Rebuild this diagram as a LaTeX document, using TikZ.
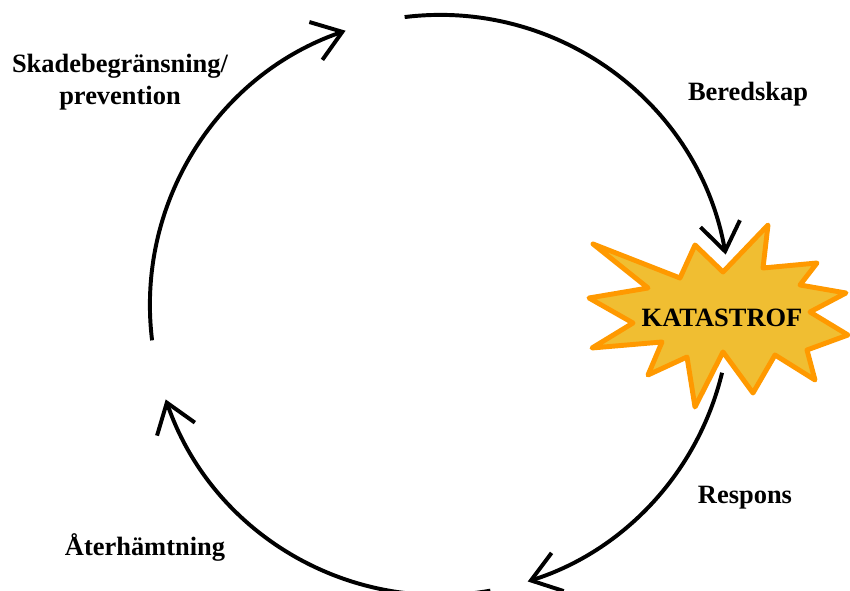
\documentclass[tikz,border=0pt]{standalone}
\usepackage{fontspec}
\setmainfont{Liberation Serif}
\usetikzlibrary{arrows.meta}

\definecolor{burstfill}{RGB}{240,190,50}
\definecolor{burstline}{RGB}{255,153,0}

\begin{document}
\begin{tikzpicture}[
    x=0.025cm, y=0.025cm,
    phase/.style={
      align=center,
      font=\fontsize{18.8}{22.7}\selectfont\bfseries
    },
    cyclearrow/.style={
      -{Straight Barb[length=7mm, width=10mm]},
      line width=2.8pt
    },
    burst/.style={
      draw=burstline,
      fill=burstfill,
      line width=3.5pt,
      line join=round
    }
]
\useasboundingbox (0,0) rectangle (850,591);

% the cycle
\coordinate (mid) at (440,286);
\path (mid) ++(187:7.25cm) coordinate (prevStart);
\path (mid) ++(97:7.25cm) coordinate (prepStart);
\path (mid) ++(-13.5:7.25cm) coordinate (respStart);
\path (mid) ++(-80:7.25cm) coordinate (recStart);

% katastrof
\draw[burst] (593,347) -- (680,313) -- (695,346) -- (723,319) -- (768,366)
  -- (763,323) -- (817,328) -- (800,306) -- (846,298) -- (810,279)
  -- (848,256) -- (807,241) -- (815,211) -- (775,236) -- (753,198)
  -- (723,239) -- (695,184) -- (687,234) -- (648,216) -- (662,249)
  -- (592,243) -- (633,268) -- (589,293) -- (648,303) -- cycle;
\node[phase] (kat) at (722,273) {KATASTROF};

\node[phase] (prev) at (120,509) {Skadebegränsning/\\prevention};
\node[phase] (prep) at (748,497) {Beredskap};
\node[phase] (resp) at (745,93) {Respons};
\node[phase] (rec) at (145,44) {Återhämtning};

\draw[cyclearrow] (prevStart) arc[start angle=187, end angle=109, radius=7.25cm];
\draw[cyclearrow] (prepStart) arc[start angle=97, end angle=10, radius=7.25cm];
\draw[cyclearrow] (respStart) arc[start angle=-13.5, end angle=-72.4, radius=7.25cm];
\draw[cyclearrow] (recStart) arc[start angle=280, end angle=199, radius=7.25cm];
\end{tikzpicture}
\end{document}
